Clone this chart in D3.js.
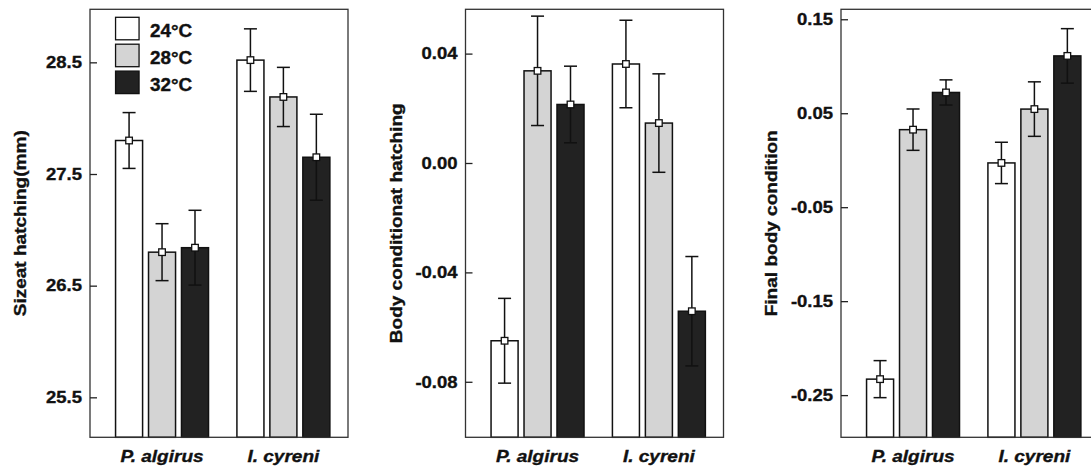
<!DOCTYPE html>
<html>
<head>
<meta charset="utf-8">
<script src="https://cdn.jsdelivr.net/npm/d3@7"></script>
<style>
  body { margin: 0; background: #fff; overflow: hidden }
  text { font-family: "Liberation Sans", Arial, sans-serif; font-weight: bold; fill: #111; stroke: #111; stroke-width: 0.35px }
</style>
</head>
<body>
<svg id="chart" width="1091" height="469"></svg>
<script>
const species = ['P. algirus', 'I. cyreni']
const temps = ['24°C', '28°C', '32°C']
const tempColors = ['#ffffff', '#d4d4d4', '#222222']

// panel 1: size at hatching
const sizeMean = [[27.80, 26.80, 26.84], [28.52, 28.19, 27.65]]
const sizeErr = [[0.25, 0.255, 0.335], [0.28, 0.265, 0.385]]
const sizeTicks = [25.5, 26.5, 27.5, 28.5]

// panel 2: body condition at hatching
const hatchMean = [[-0.065, 0.0337, 0.0214], [0.0362, 0.0146, -0.0542]]
const hatchErr = [[0.0155, 0.020, 0.014], [0.016, 0.018, 0.020]]
const hatchTicks = [-0.08, -0.04, 0.00, 0.04]

// panel 3: final body condition
const finalMean = [[-0.233, 0.0325, 0.0721], [-0.0029, 0.0544, 0.111]]
const finalErr = [[0.0197, 0.022, 0.0134], [0.022, 0.029, 0.029]]
const finalTicks = [-0.25, -0.15, -0.05, 0.05, 0.15]

const panels = [
  { title: 'Sizeat hatching(mm)', mean: sizeMean, err: sizeErr, ticks: sizeTicks, domain: [25.142, 28.975], digits: 1, legend: true },
  { title: 'Body conditionat hatching', mean: hatchMean, err: hatchErr, ticks: hatchTicks, domain: [-0.1003, 0.0562], digits: 2 },
  { title: 'Final body condition', mean: finalMean, err: finalErr, ticks: finalTicks, domain: [-0.2949, 0.1606], digits: 2 }
]

const frameW = 258
const frameH = 428
const frameTop = 9.3
const panelStep = 375.5
const firstLeft = 90
const stretch = 1.12

const svg = d3.select('#chart')

const x0 =
  d3.scaleBand()
    .domain(species)
    .range([0, frameW])
    .paddingInner(0.234)
    .paddingOuter(0.18)
    .align(0.585)

const x1 =
  d3.scaleBand()
    .domain(temps)
    .range([0, x0.bandwidth()])
    .paddingInner(0.18)

panels.forEach((p, i) => {
  const g =
    svg.append('g')
      .attr('transform', `translate(${firstLeft + i * panelStep}, ${frameTop})`)

  const y =
    d3.scaleLinear()
      .domain(p.domain)
      .range([frameH, 0])

  const rows = []
  species.forEach((s, si) => {
    temps.forEach((t, ti) => {
      rows.push({ s, t, ti, m: p.mean[si][ti], e: p.err[si][ti] })
    })
  })

  g.selectAll('.bar')
    .data(rows)
    .enter()
    .append('rect')
    .attr('class', 'bar')
    .attr('x', d => x0(d.s) + x1(d.t))
    .attr('width', x1.bandwidth())
    .attr('y', d => y(d.m))
    .attr('height', d => frameH - y(d.m))
    .attr('fill', d => tempColors[d.ti])
    .attr('stroke', '#111')
    .attr('stroke-width', 1.5)

  const cx = d => x0(d.s) + x1(d.t) + x1.bandwidth() / 2
  const capHalf = 6.5

  const err =
    g.selectAll('.err')
      .data(rows)
      .enter()
      .append('g')
      .attr('class', 'err')
      .attr('stroke', '#111')
      .attr('stroke-width', 1.5)

  err.append('line')
    .attr('x1', cx).attr('x2', cx)
    .attr('y1', d => y(d.m + d.e)).attr('y2', d => y(d.m - d.e))
  err.append('line')
    .attr('x1', d => cx(d) - capHalf).attr('x2', d => cx(d) + capHalf)
    .attr('y1', d => y(d.m + d.e)).attr('y2', d => y(d.m + d.e))
  err.append('line')
    .attr('x1', d => cx(d) - capHalf).attr('x2', d => cx(d) + capHalf)
    .attr('y1', d => y(d.m - d.e)).attr('y2', d => y(d.m - d.e))

  g.selectAll('.marker')
    .data(rows)
    .enter()
    .append('rect')
    .attr('class', 'marker')
    .attr('x', d => cx(d) - 3.3)
    .attr('y', d => y(d.m) - 3.3)
    .attr('width', 6.6)
    .attr('height', 6.6)
    .attr('fill', '#fff')
    .attr('stroke', '#111')
    .attr('stroke-width', 1.3)

  g.append('rect')
    .attr('width', frameW)
    .attr('height', frameH)
    .attr('fill', 'none')
    .attr('stroke', '#333')
    .attr('stroke-width', 1.3)

  const yAxis =
    d3.axisLeft(y)
      .tickValues(p.ticks)
      .tickSizeInner(-7)
      .tickSizeOuter(0)
      .tickPadding(8)
      .tickFormat(d => d.toFixed(p.digits))

  const ax = g.append('g').call(yAxis)
  ax.select('.domain').remove()
  ax.attr('font-family', null).attr('font-size', null)
  ax.selectAll('.tick line').attr('stroke', '#222').attr('stroke-width', 1.3)
  ax.selectAll('.tick text')
    .attr('x', 0)
    .attr('transform', `translate(-8, 0) scale(${stretch}, 1)`)
    .style('font-size', '16.5px')
    .attr('fill', '#111')

  g.append('text')
    .attr('transform', `translate(-64, ${frameH / 2}) rotate(-90) scale(${stretch}, 1)`)
    .attr('text-anchor', 'middle')
    .style('font-size', '17px')
    .text(p.title)

  g.selectAll('.xlabel')
    .data(species)
    .enter()
    .append('text')
    .attr('class', 'xlabel')
    .attr('transform', d => `translate(${x0(d) + x0.bandwidth() / 2}, ${462 - frameTop}) scale(${stretch}, 1)`)
    .attr('text-anchor', 'middle')
    .style('font-size', '17px')
    .style('font-style', 'italic')
    .text(d => d)

  if (p.legend) {
    const lg =
      g.selectAll('.legend')
        .data(temps)
        .enter()
        .append('g')
        .attr('class', 'legend')
        .attr('transform', (d, k) => `translate(${x0(species[0])}, ${8 + k * 26.9})`)

    lg.append('rect')
      .attr('width', 23.5)
      .attr('height', 22.5)
      .attr('fill', (d, k) => tempColors[k])
      .attr('stroke', '#111')
      .attr('stroke-width', 1.3)

    lg.append('text')
      .attr('transform', `translate(34.5, 19.8) scale(1.08, 1)`)
      .style('font-size', '17.5px')
      .text(d => d)
  }
})
</script>
</body>
</html>
